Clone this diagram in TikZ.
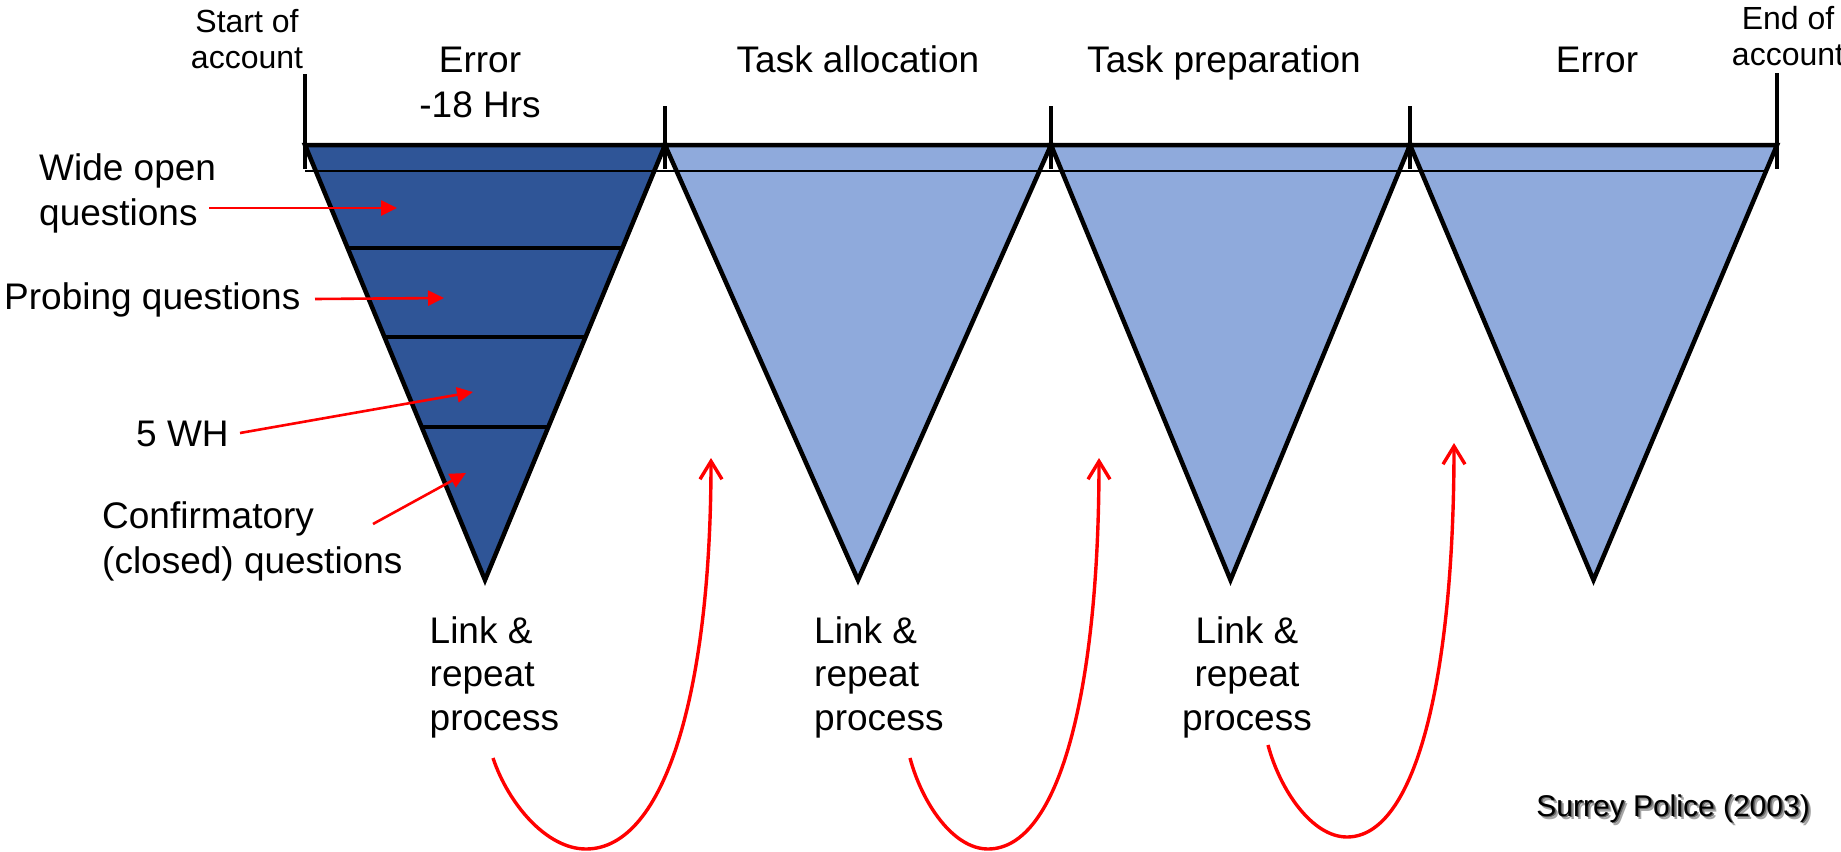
\documentclass[tikz,border=0pt]{standalone}
\usepackage{fontspec}
\setmainfont{Liberation Sans}
\usetikzlibrary{arrows.meta,calc}
\definecolor{darkblue}{HTML}{2F5597}
\definecolor{lightblue}{HTML}{8FAADC}
\begin{document}
\begin{tikzpicture}[x=1pt,y=-1pt,
  funnel/.style={draw=black,line width=4.5pt,line join=miter},
  divider/.style={draw=black,line width=4.5pt},
  lbl/.style={inner sep=0pt,font=\fontsize{37}{45}\selectfont},
  linklbl/.style={inner sep=0pt,font=\fontsize{37}{43.5}\selectfont},
  small/.style={inner sep=0pt,font=\fontsize{32}{36}\selectfont},
  redarrow/.style={draw=red,line width=2.6pt,-{Triangle[length=16pt,width=15pt]}},
  loop/.style={draw=red,line width=3.4pt,-{Straight Barb[length=18pt,width=22pt]}},
  tickline/.style={draw=black,line width=3.5pt},
  srcfont/.style={inner sep=0pt,font=\fontsize{30}{36}\selectfont},
]
\useasboundingbox (0,0) rectangle (1841,851);

% funnel corners
\coordinate (p0) at (305,145);
\coordinate (p1) at (665,145);
\coordinate (p2) at (1051,145);
\coordinate (p3) at (1410,145);
\coordinate (p4) at (1777,145);
\coordinate (a1) at (485,580);
\coordinate (a2) at (858,580);
\coordinate (a3) at (1230.5,580);
\coordinate (a4) at (1593.5,580);

\filldraw[funnel,fill=darkblue] (p0) -- (a1) -- (p1) -- cycle;
\filldraw[funnel,fill=lightblue] (p1) -- (a2) -- (p2) -- cycle;
\filldraw[funnel,fill=lightblue] (p2) -- (a3) -- (p3) -- cycle;
\filldraw[funnel,fill=lightblue] (p3) -- (a4) -- (p4) -- cycle;

% dividers in first funnel
\draw[divider] ($(p0)!0.2368!(a1)$) -- ($(p1)!0.2368!(a1)$);
\draw[divider] ($(p0)!0.4414!(a1)$) -- ($(p1)!0.4414!(a1)$);
\draw[divider] ($(p0)!0.648!(a1)$) -- ($(p1)!0.648!(a1)$);

% timeline
\draw[black,line width=1.5pt] (305,171) -- (1767,171);
\draw[black,line width=4.5pt] (p0) -- (p4);
\draw[tickline] (305,74) -- (305,169);
\draw[tickline] (665,106) -- (665,169);
\draw[tickline] (1051,106) -- (1051,169);
\draw[tickline] (1410,106) -- (1410,169);
\draw[tickline] (1777,73) -- (1777,169);

% top labels
\node[small,align=center,anchor=north] (start) at (247,8.7) {Start of\\account};
\node[small,align=center,anchor=north] (endacc) at (1788,5.7) {End of\\account};
\node[lbl,align=center,anchor=north] (err1) at (480,46.5) {Error\\-18 Hrs};
\node[lbl,anchor=base] (task1) at (858,73) {Task allocation};
\node[lbl,anchor=base] (task2) at (1224,73) {Task preparation};
\node[lbl,anchor=base] (err2) at (1597,73) {Error};

% left labels
\node[lbl,align=left,anchor=north west] (wide) at (39,153) {Wide open\\questions};
\node[lbl,anchor=base west] (probe) at (4,309) {Probing questions};
\node[lbl,anchor=base west] (fivewh) at (136,446) {5 WH};
\node[lbl,align=left,anchor=north west] (confirm) at (102,501) {Confirmatory\\(closed) questions};

% arrows into the funnel
\coordinate (wideS) at (209,208);   \coordinate (wideT) at (397,208);
\coordinate (probeS) at (315,299);  \coordinate (probeT) at (444,298);
\coordinate (whS) at (240,433);     \coordinate (whT) at (473,392);
\coordinate (confS) at (373,524);   \coordinate (confT) at (466,473);
\draw[redarrow] (wideS) -- (wideT);
\draw[redarrow] (probeS) -- (probeT);
\draw[redarrow] (whS) -- (whT);
\draw[redarrow] (confS) -- (confT);

% link & repeat labels
\node[linklbl,align=left,anchor=north west] (link1) at (429.5,616) {Link \&\\repeat\\process};
\node[linklbl,align=left,anchor=north west] (link2) at (814,616) {Link \&\\repeat\\process};
\node[linklbl,align=center,anchor=north] (link3) at (1247,616) {Link \&\\repeat\\process};

% loops
\coordinate (l1s) at (493,758);  \coordinate (l1b) at (586,849);  \coordinate (l1t) at (711,458);
\coordinate (l2s) at (910,758);  \coordinate (l2b) at (988,849);  \coordinate (l2t) at (1099,458);
\coordinate (l3s) at (1268,745); \coordinate (l3b) at (1347,837); \coordinate (l3t) at (1454,443);
\draw[loop] (l1s) .. controls +(15,45) and +(-40,0) .. (l1b) .. controls +(80,0) and +(0,230) .. (l1t);
\draw[loop] (l2s) .. controls +(12,45) and +(-35,0) .. (l2b) .. controls +(72,0) and +(0,230) .. (l2t);
\draw[loop] (l3s) .. controls +(12,45) and +(-35,0) .. (l3b) .. controls +(70,0) and +(0,230) .. (l3t);

% source (with drop shadow)
\node[srcfont,anchor=base east,text=black!35] at (1813,819.5) {Surrey Police (2003)};
\node[srcfont,anchor=base east,text=black!60] at (1811.5,817.8) {Surrey Police (2003)};
\node[srcfont,anchor=base east] (surrey) at (1810,816) {Surrey Police (2003)};
\end{tikzpicture}
\end{document}
